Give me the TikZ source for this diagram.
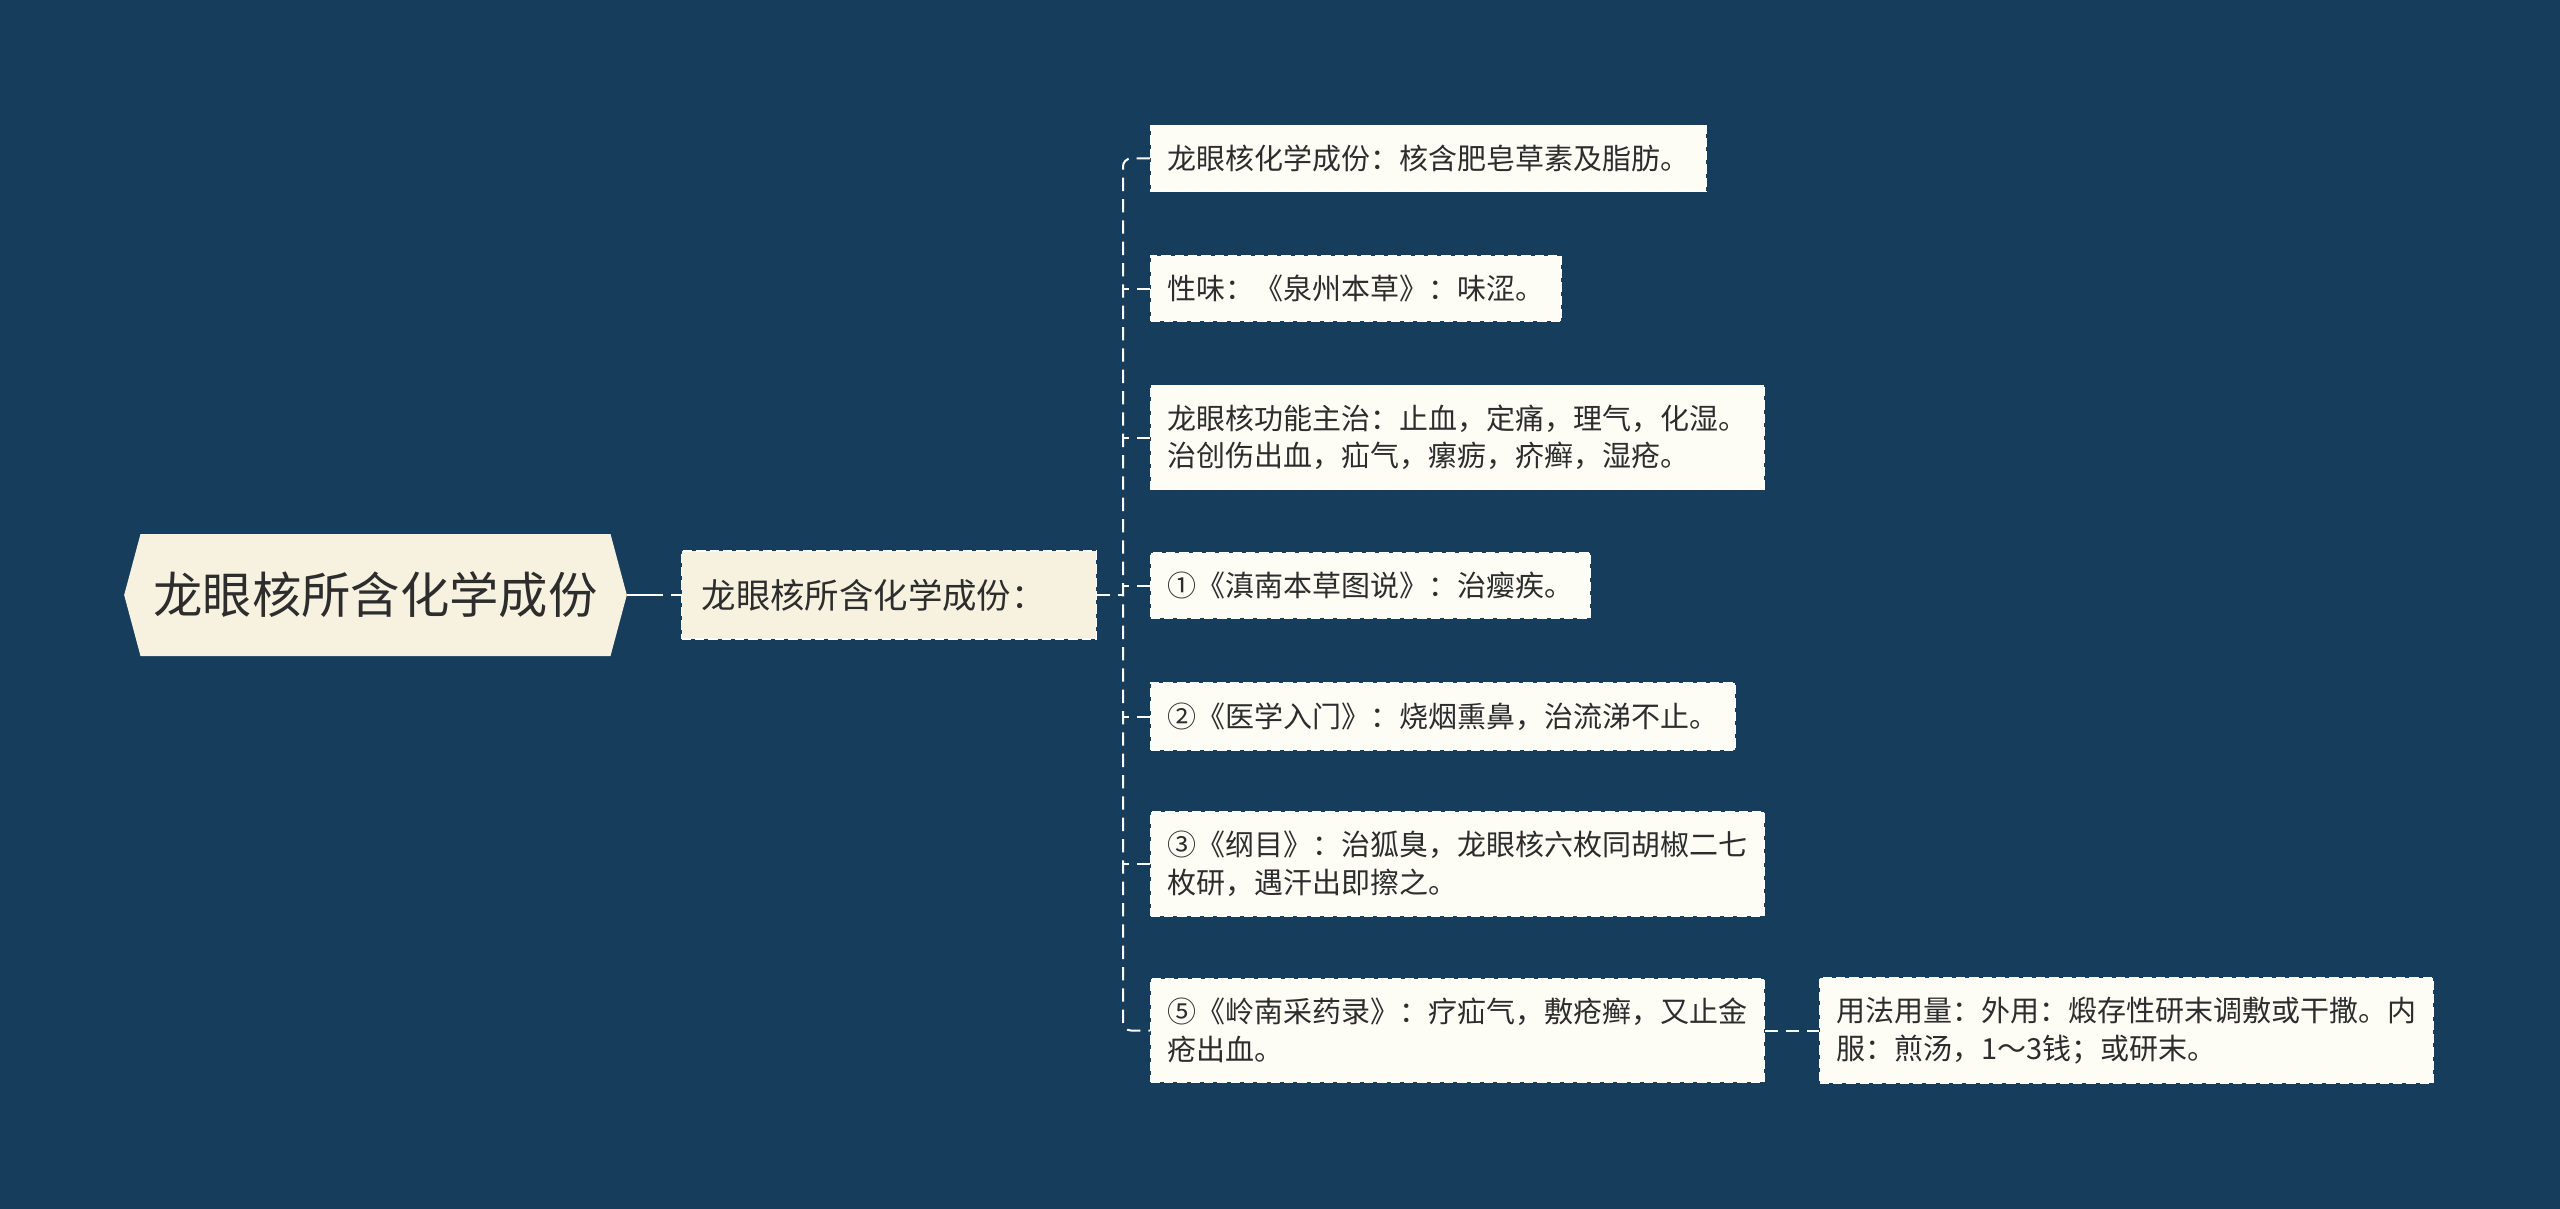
\documentclass[tikz,border=0pt]{standalone}
\usepackage{fontspec}
\setmainfont{Noto Sans CJK SC}
\usetikzlibrary{shapes.symbols}
\definecolor{bgblue}{RGB}{23,61,92}
\definecolor{rootfill}{RGB}{246,242,223}
\definecolor{subfill}{RGB}{246,242,223}
\definecolor{leaffill}{RGB}{253,253,246}
\definecolor{inkgray}{RGB}{45,45,45}
\tikzset{
  leafbox/.style={draw=white, dash pattern=on 7pt off 3pt, line width=1.1pt, fill=leaffill, text=inkgray, anchor=west, align=left, inner xsep=12.5pt, inner ysep=14.6pt, font=\fontsize{21.75}{28.1}\selectfont},
  link/.style={draw=white, line width=1.5pt, dash pattern=on 10pt off 6pt},
}

\begin{document}
\begin{tikzpicture}[x=0.75pt,y=0.75pt,yscale=-1,xscale=1]
%Shape: Background
\fill[bgblue] (0,0) rectangle (2560,1209);
\useasboundingbox (0,0) rectangle (2560,1209);

%Shape: Hexagon (root)
\node[shape=signal, signal to=west and east, signal pointer angle=150, fill=rootfill, text=inkgray, minimum width=377pt, minimum height=91.5pt, inner xsep=6pt, font=\fontsize{37}{44}\selectfont] (root) at (375.5,595) {龙眼核所含化学成份};
%Shape: Rectangle (sub)
\node[draw=white, dash pattern=on 7pt off 3pt, line width=1.1pt, fill=subfill, text=inkgray, anchor=west, text width=281pt, align=left, inner xsep=15pt, minimum height=66pt, font=\fontsize{25.8}{31}\selectfont] (sub) at (681,595) {龙眼核所含化学成份：};

%Shape: Rectangle (leaves)
\node[leafbox] (l1) at (1150,158.5) {龙眼核化学成份：核含肥皂草素及脂肪。};
\node[leafbox] (l2) at (1150,288.5) {性味：《泉州本草》：味涩。};
\node[leafbox] (l3) at (1150,437.5) {龙眼核功能主治：止血，定痛，理气，化湿。\\治创伤出血，疝气，瘰疬，疥癣，湿疮。};
\node[leafbox] (l4) at (1150,585.5) {①《滇南本草图说》：治瘿疾。};
\node[leafbox] (l5) at (1150,716.5) {②《医学入门》：烧烟熏鼻，治流涕不止。};
\node[leafbox] (l6) at (1150,864) {③《纲目》：治狐臭，龙眼核六枚同胡椒二七\\枚研，遇汗出即擦之。};
\node[leafbox] (l7) at (1150,1030.5) {⑤《岭南采药录》：疗疝气，敷疮癣，又止金\\疮出血。};
\node[leafbox] (l8) at (1819,1030.5) {用法用量：外用：煅存性研末调敷或干撒。内\\服：煎汤，1～3钱；或研末。};

%Straight Lines
\coordinate (trunk) at (1123,595);
\draw[link, line width=2pt, dash pattern=on 27pt off 6pt] (root.east) -- (sub.west);
\draw[link] (sub.east) -- (trunk);
\draw[link, rounded corners=6pt] (l1.west) -| (trunk) |- (l7.west);
\foreach \n in {l2,l3,l4,l5,l6} {
  \draw[link] (\n.west) -- (\n.west -| trunk);
}
\draw[link] (l7.east) -- (l8.west);

\end{tikzpicture}
\end{document}
